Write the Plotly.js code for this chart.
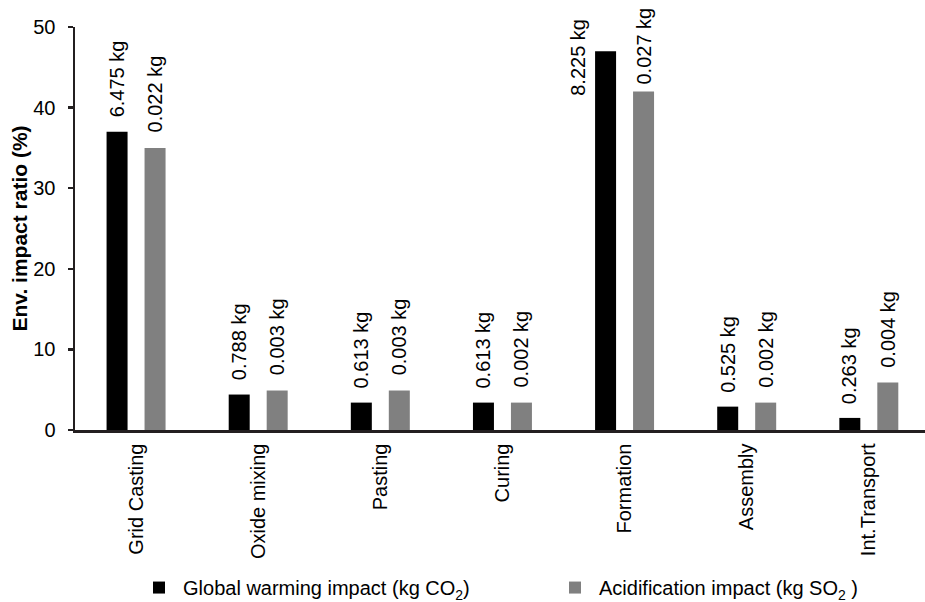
<!DOCTYPE html>
<html>
<head>
<meta charset="utf-8">
<script src="https://cdn.plot.ly/plotly-3.0.1.min.js"></script>
<style>html,body{margin:0;padding:0;background:#fff;}#chart{width:925px;height:602px;}</style>
</head>
<body>
<div id="chart"></div>
<script>
var categories = ["Grid Casting", "Oxide mixing", "Pasting", "Curing", "Formation", "Assembly", "Int.Transport"];
var warmingRatio = [37, 4.4, 3.4, 3.4, 47, 2.9, 1.5];
var acidRatio = [35, 4.9, 4.9, 3.4, 42, 3.4, 5.9];
var warmingLabels = ["6.475 kg", "0.788 kg", "0.613 kg", "0.613 kg", "8.225 kg", "0.525 kg", "0.263 kg"];
var acidLabels = ["0.022 kg", "0.003 kg", "0.003 kg", "0.002 kg", "0.027 kg", "0.002 kg", "0.004 kg"];
var seriesNames = ["Global warming impact (kg CO<sub>2</sub>)", "Acidification impact (kg SO<sub>2</sub> )"];
var yTicks = [0, 10, 20, 30, 40, 50];

var FONT = "Liberation Sans, Arial, sans-serif";
var AXC = "#231f20";
var FS = 20;

var traces = [
  {type: "bar", x: categories, y: warmingRatio, name: seriesNames[0], marker: {color: "#000000"}, hoverinfo: "none", legend: "legend"},
  {type: "bar", x: categories, y: acidRatio, name: seriesNames[1], marker: {color: "#808080"}, hoverinfo: "none", legend: "legend2"}
];

var annotations = [];
var maxIdx = warmingRatio.indexOf(Math.max.apply(null, warmingRatio));
categories.forEach(function (c, i) {
  if (i === maxIdx) {
    annotations.push({x: c, y: warmingRatio[i], xref: "x", yref: "y", text: warmingLabels[i], textangle: -90,
      showarrow: false, xanchor: "center", yanchor: "middle", xshift: -46, yshift: -6, font: {family: FONT, size: FS, color: "#000"}});
  } else {
    annotations.push({x: c, y: warmingRatio[i], xref: "x", yref: "y", text: warmingLabels[i], textangle: -90,
      showarrow: false, xanchor: "center", yanchor: "bottom", xshift: -19, yshift: 12, font: {family: FONT, size: FS, color: "#000"}});
  }
  annotations.push({x: c, y: acidRatio[i], xref: "x", yref: "y", text: acidLabels[i], textangle: -90,
    showarrow: false, xanchor: "center", yanchor: "bottom", xshift: 19, yshift: (i === maxIdx ? 5 : 13), font: {family: FONT, size: FS, color: "#000"}});
});

var legendBase = {orientation: "h", xanchor: "left", yref: "container", y: 0.024, yanchor: "middle",
  itemwidth: 38, font: {family: FONT, size: FS, color: "#000"}, bgcolor: "rgba(0,0,0,0)", borderwidth: 0};

var layout = {
  width: 925, height: 602,
  margin: {l: 75, r: 0, t: 27, b: 172},
  paper_bgcolor: "#fff", plot_bgcolor: "#fff",
  font: {family: FONT, size: FS, color: "#000"},
  barmode: "group", bargap: 0.378, bargroupgap: 0.447,
  showlegend: true,
  legend: Object.assign({}, legendBase, {x: 0.0706}),
  legend2: Object.assign({}, legendBase, {x: 0.56}),
  xaxis: {type: "category", range: [-0.5, 6.46], showline: true, linecolor: AXC, linewidth: 2.5,
    ticks: "", tickangle: -90, showgrid: false, zeroline: false, fixedrange: true, ticklabelstandoff: 3,
    tickfont: {family: FONT, size: FS, color: "#000"}},
  yaxis: {range: [0, 50], tickvals: yTicks, showline: true, linecolor: AXC, linewidth: 2.5,
    ticks: "outside", ticklen: 5, tickwidth: 2.5, tickcolor: AXC, showgrid: false, zeroline: false,
    ticklabelstandoff: 8, fixedrange: true,
    tickfont: {family: FONT, size: FS, color: "#000"},
    title: {text: "<b>Env. impact ratio (%)</b>", font: {family: FONT, size: 21, color: "#000"}, standoff: 0}},
  annotations: annotations
};

Plotly.newPlot("chart", traces, layout, {displayModeBar: false, staticPlot: true});
</script>
</body>
</html>
